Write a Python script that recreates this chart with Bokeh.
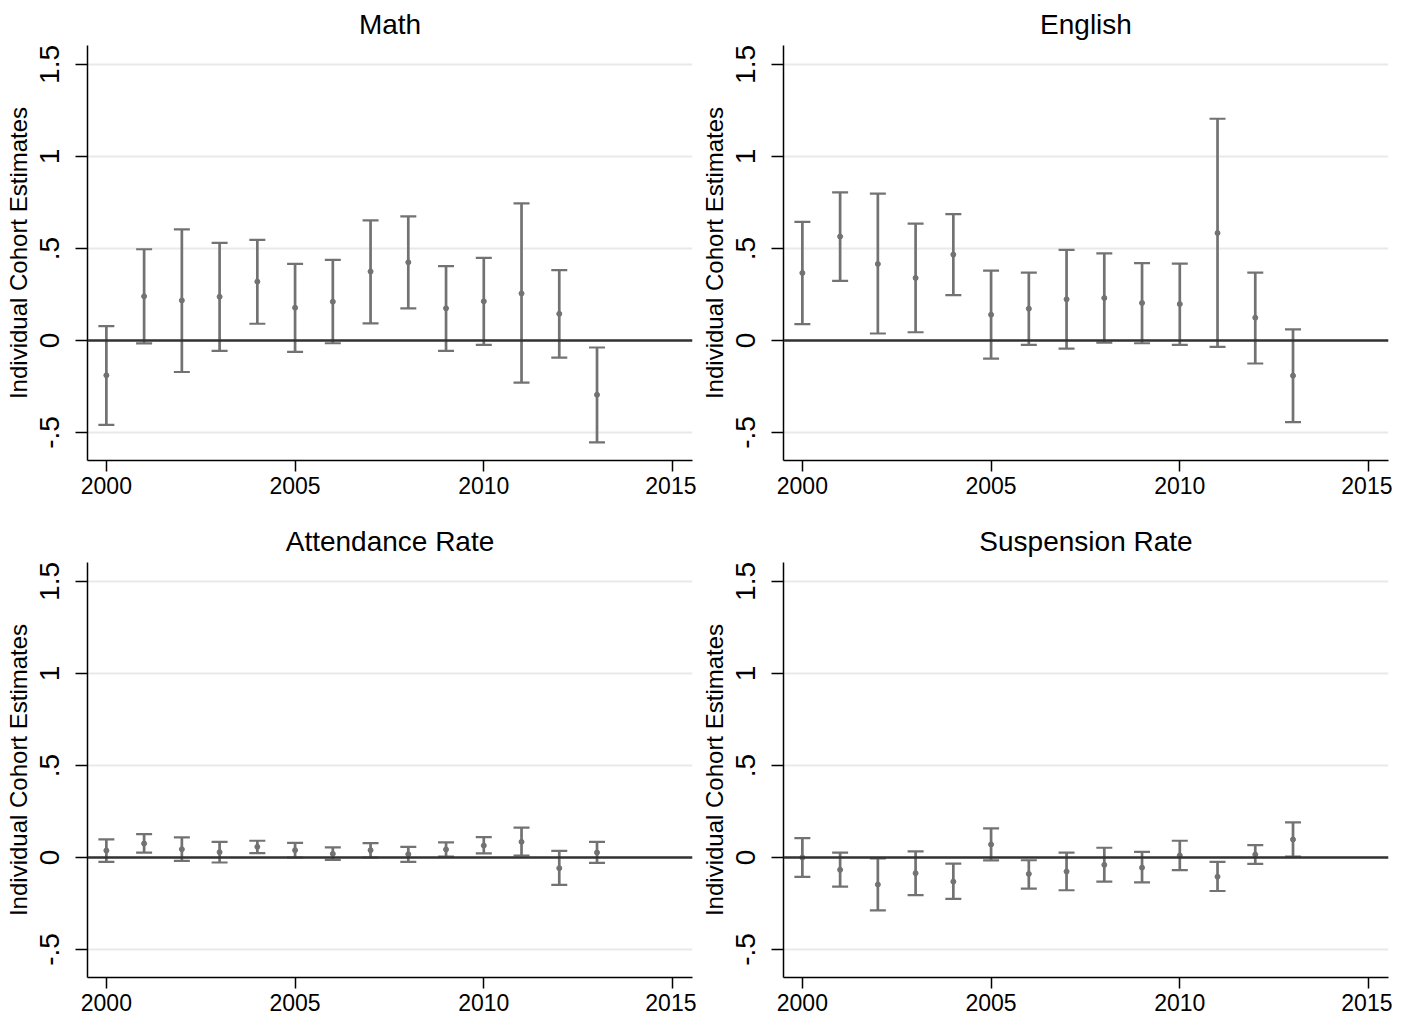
from bokeh.plotting import figure
from bokeh.layouts import column, row
from bokeh.models import FixedTicker, Range1d, Span
from bokeh.embed import file_html
from bokeh.resources import INLINE

years = list(range(2000, 2014))

titles = ["Math", "English", "Attendance Rate", "Suspension Rate"]

math_est = [-0.189, 0.240, 0.218, 0.238, 0.320, 0.178, 0.211, 0.375, 0.425, 0.175, 0.213, 0.256, 0.145, -0.295]
math_hi = [0.078, 0.496, 0.604, 0.531, 0.547, 0.416, 0.438, 0.653, 0.675, 0.404, 0.449, 0.745, 0.382, -0.038]
math_lo = [-0.458, -0.016, -0.171, -0.056, 0.091, -0.062, -0.015, 0.093, 0.175, -0.056, -0.024, -0.229, -0.093, -0.553]

eng_est = [0.367, 0.565, 0.416, 0.340, 0.467, 0.140, 0.173, 0.224, 0.231, 0.204, 0.198, 0.584, 0.124, -0.191]
eng_hi = [0.645, 0.805, 0.798, 0.635, 0.687, 0.380, 0.369, 0.493, 0.473, 0.420, 0.418, 1.205, 0.369, 0.060]
eng_lo = [0.089, 0.324, 0.038, 0.045, 0.247, -0.098, -0.024, -0.044, -0.011, -0.015, -0.024, -0.035, -0.125, -0.444]

att_est = [0.038, 0.076, 0.045, 0.029, 0.058, 0.040, 0.020, 0.040, 0.018, 0.044, 0.065, 0.085, -0.058, 0.027]
att_hi = [0.098, 0.127, 0.109, 0.085, 0.091, 0.080, 0.055, 0.078, 0.058, 0.082, 0.111, 0.162, 0.036, 0.085]
att_lo = [-0.024, 0.027, -0.018, -0.027, 0.024, 0.000, -0.013, 0.000, -0.024, 0.005, 0.022, 0.011, -0.149, -0.029]

sus_est = [0.000, -0.067, -0.147, -0.085, -0.131, 0.071, -0.089, -0.076, -0.040, -0.055, 0.011, -0.104, 0.016, 0.098]
sus_hi = [0.105, 0.027, -0.005, 0.033, -0.033, 0.158, -0.015, 0.027, 0.053, 0.031, 0.091, -0.024, 0.067, 0.191]
sus_lo = [-0.105, -0.158, -0.287, -0.204, -0.225, -0.016, -0.169, -0.178, -0.131, -0.135, -0.069, -0.182, -0.035, 0.005]

y_ticks = [-0.5, 0, 0.5, 1, 1.5]
y_tick_labels = ["-.5", "0", ".5", "1", "1.5"]
x_ticks = [2000, 2005, 2010, 2015]
x_tick_labels = ["2000", "2005", "2010", "2015"]
y_label = "Individual Cohort Estimates"

series = [
    (math_est, math_lo, math_hi),
    (eng_est, eng_lo, eng_hi),
    (att_est, att_lo, att_hi),
    (sus_est, sus_lo, sus_hi),
]

FONT = "Liberation Sans"
BAR = "#727272"


def make_panel(title, est, lo, hi, top_row):
    h = 516 if top_row else 502
    p = figure(width=696, height=h, output_backend="svg", toolbar_location=None,
               x_range=Range1d(1999.5, 2015.53), y_range=Range1d(-0.652, 1.603),
               min_border_left=87, min_border_right=4,
               min_border_top=45 if top_row else 46,
               min_border_bottom=56 if top_row else 41)
    p.title.text = title
    p.title.align = "center"
    p.title.text_font = FONT
    p.title.text_font_size = "28px"
    p.title.text_font_style = "normal"
    p.title.text_color = "#000000"
    p.title.standoff = 12
    p.outline_line_color = None
    p.background_fill_color = "white"
    p.border_fill_color = "white"

    p.xgrid.grid_line_color = None
    p.ygrid.ticker = FixedTicker(ticks=y_ticks)
    p.ygrid.grid_line_color = "#e9e9e9"
    p.ygrid.grid_line_width = 2

    p.xaxis.ticker = FixedTicker(ticks=x_ticks)
    p.xaxis.major_label_overrides = {t: l for t, l in zip(x_ticks, x_tick_labels)}
    p.yaxis.ticker = FixedTicker(ticks=y_ticks)
    p.yaxis.major_label_overrides = {t: l for t, l in zip(y_ticks, y_tick_labels)}
    p.yaxis.major_label_orientation = "vertical"
    p.yaxis.axis_label = y_label
    p.yaxis.axis_label_text_font = FONT
    p.yaxis.axis_label_text_font_size = "24px"
    p.yaxis.axis_label_text_font_style = "normal"
    p.yaxis.axis_label_text_color = "#000000"
    p.yaxis.axis_label_standoff = 6

    for ax in (p.xaxis, p.yaxis):
        ax.axis_line_color = "#000000"
        ax.axis_line_width = 1.5
        ax.major_tick_line_color = "#000000"
        ax.major_tick_line_width = 1.5
        ax.major_tick_in = 0
        ax.minor_tick_line_color = None
        ax.major_label_text_font = FONT
        ax.major_label_text_color = "#000000"
    p.xaxis.major_tick_out = 11
    p.xaxis.major_label_text_font_size = "23px"
    p.xaxis.major_label_standoff = 5
    p.yaxis.major_tick_out = 12
    p.yaxis.major_label_text_font_size = "28px"
    p.yaxis.major_label_standoff = 16

    p.add_layout(Span(location=0, dimension="width", line_color="#333333", line_width=2.5))

    p.segment(x0=years, y0=lo, x1=years, y1=hi, line_color=BAR, line_width=2.7)
    p.scatter(years, hi, marker="dash", size=16, line_color=BAR, line_width=2.2)
    p.scatter(years, lo, marker="dash", size=16, line_color=BAR, line_width=2.2)
    p.scatter(years, est, marker="circle", size=5, fill_color=BAR, line_color=BAR)
    return p


panels = []
for i, (t, (e, l, h)) in enumerate(zip(titles, series)):
    panels.append(make_panel(t, e, l, h, i < 2))

layout = column(row(panels[0], panels[1]), row(panels[2], panels[3]))

open("out.html", "w").write(file_html(layout, INLINE))
